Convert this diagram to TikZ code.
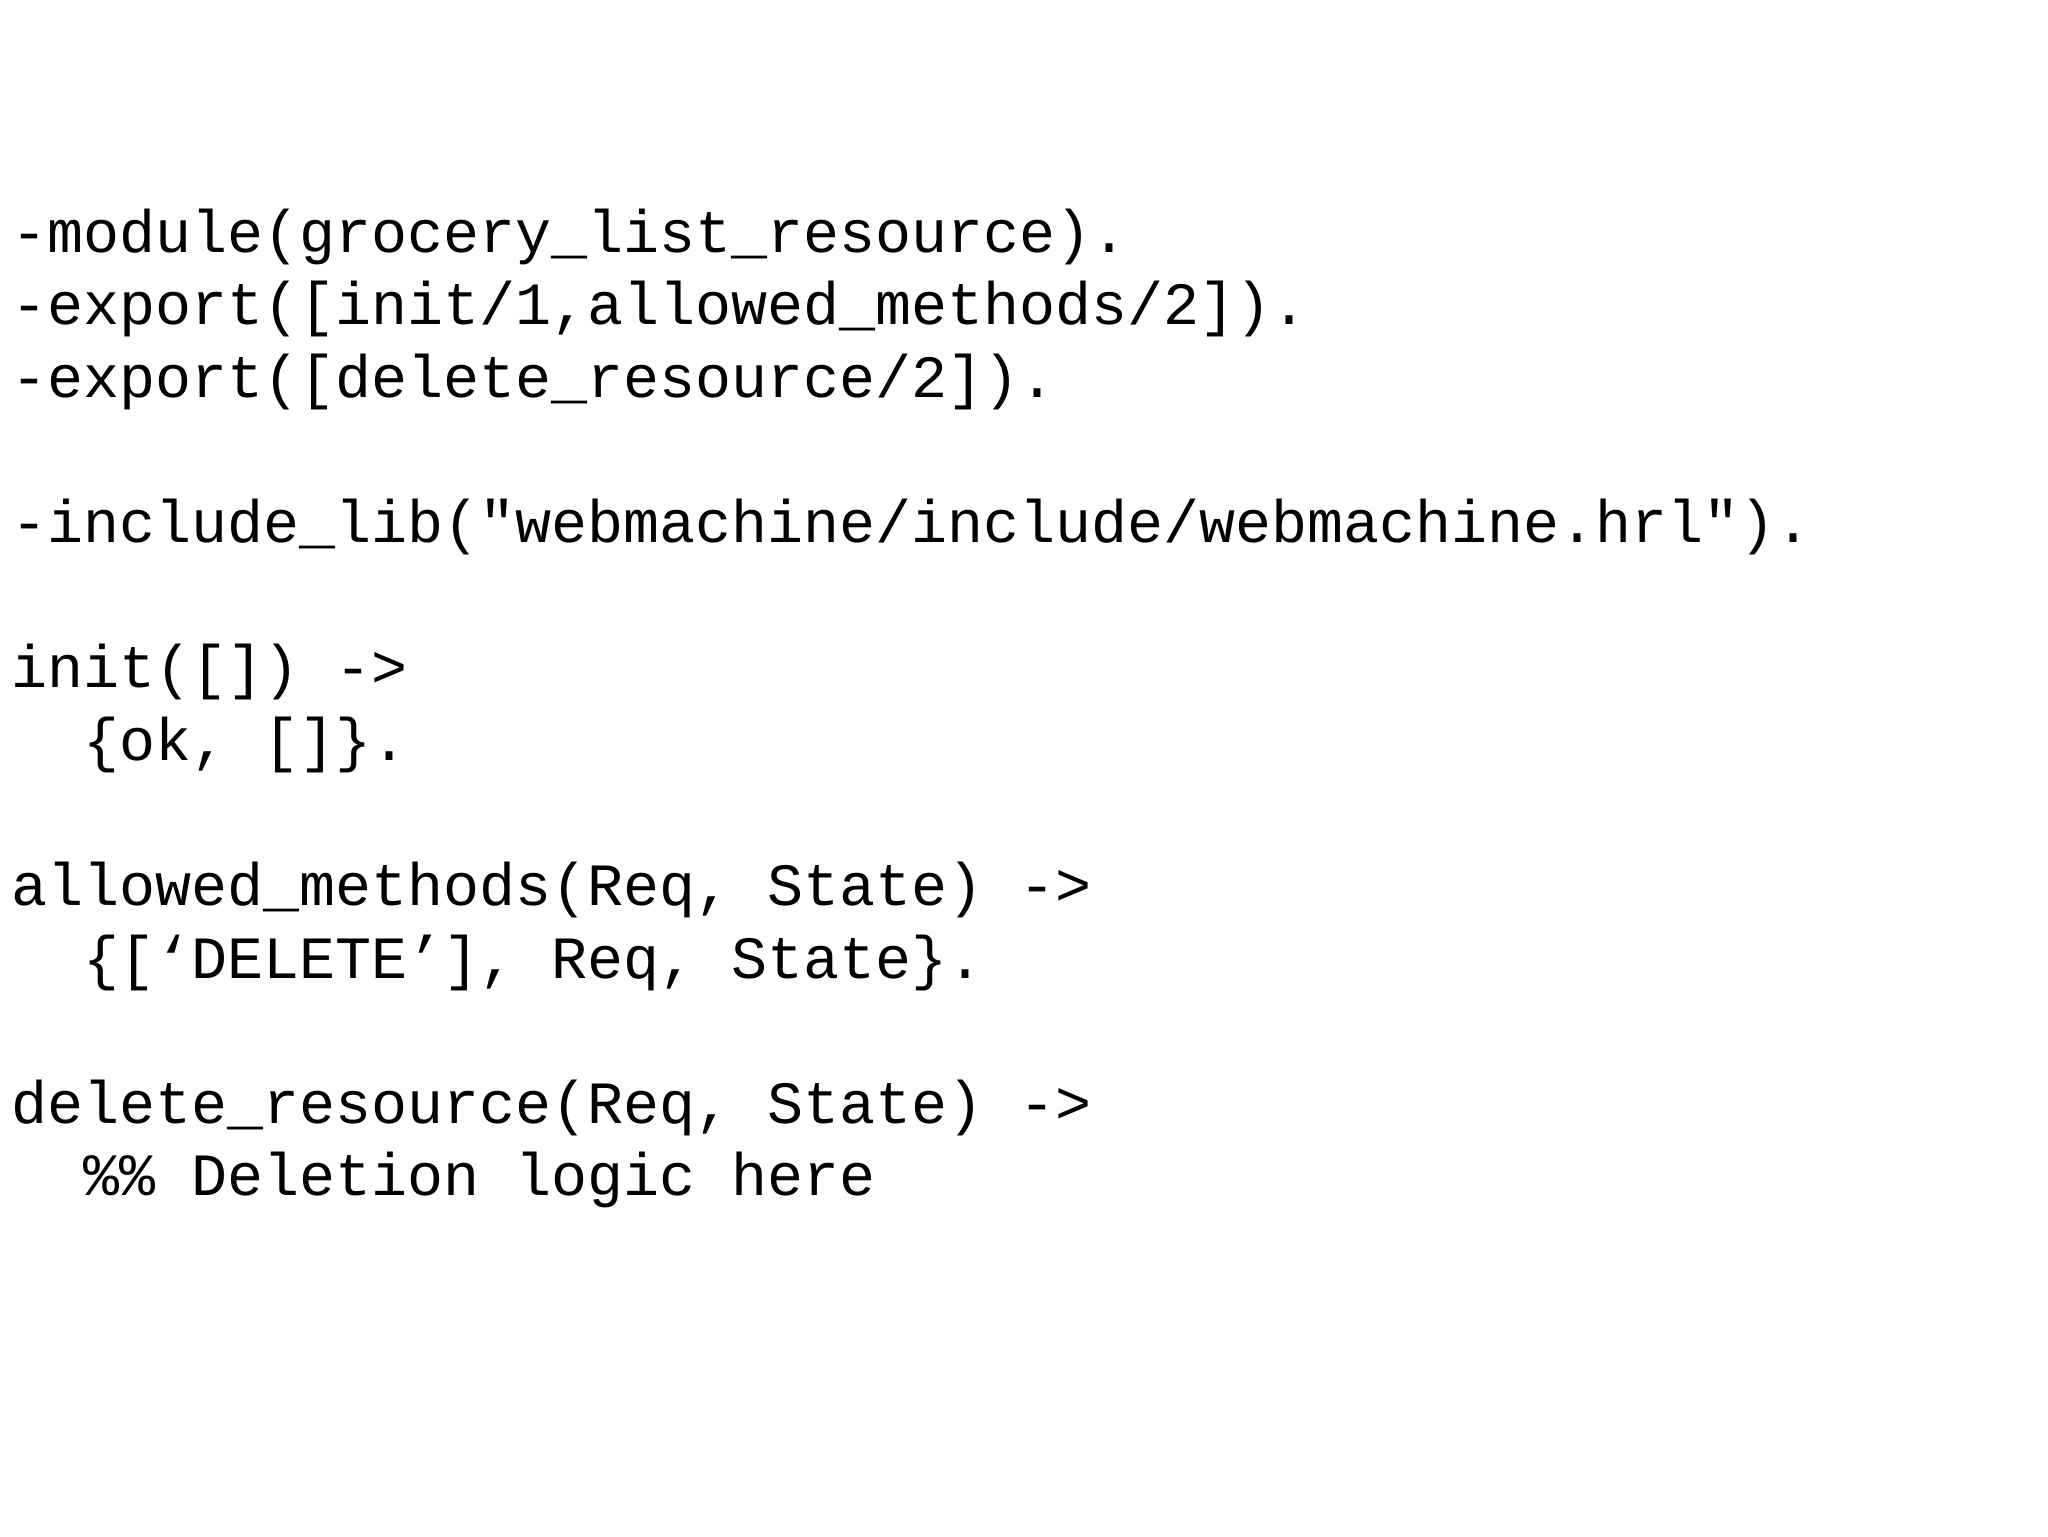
\documentclass[tikz,border=0pt]{standalone}
\usepackage{fontspec}
\setmonofont{Liberation Mono}
\begin{document}
\begin{tikzpicture}[x=1pt,y=1pt,codeline/.style={anchor=base west,inner sep=0pt,font=\ttfamily\fontsize{30}{36}\selectfont}]
\useasboundingbox[fill=white] (0,0) rectangle (1024,-768);
\def\lh{36.3}
\node[codeline] (l1) at (5.3,-126) {-module(grocery\_list\_resource).};
\node[codeline] (l2) at (5.3,-126-1*\lh) {-export([init/1,allowed\_methods/2]).};
\node[codeline] (l3) at (5.3,-126-2*\lh) {-export([delete\_resource/2]).};
\node[codeline] (l5) at (5.3,-126-4*\lh) {-include\_lib("webmachine/include/webmachine.hrl").};
\node[codeline] (l7) at (5.3,-126-6*\lh) {init([]) ->};
\node[codeline] (l8) at (5.3,-126-7*\lh) {\ \ \{ok, []\}.};
\node[codeline] (l10) at (5.3,-126-9*\lh) {allowed\_methods(Req, State) ->};
\node[codeline] (l11) at (5.3,-126-10*\lh) {\ \ \{[‘DELETE’], Req, State\}.};
\node[codeline] (l13) at (5.3,-126-12*\lh) {delete\_resource(Req, State) ->};
\node[codeline] (l14) at (5.3,-126-13*\lh) {\ \ \%\% Deletion logic here};
\end{tikzpicture}
\end{document}
